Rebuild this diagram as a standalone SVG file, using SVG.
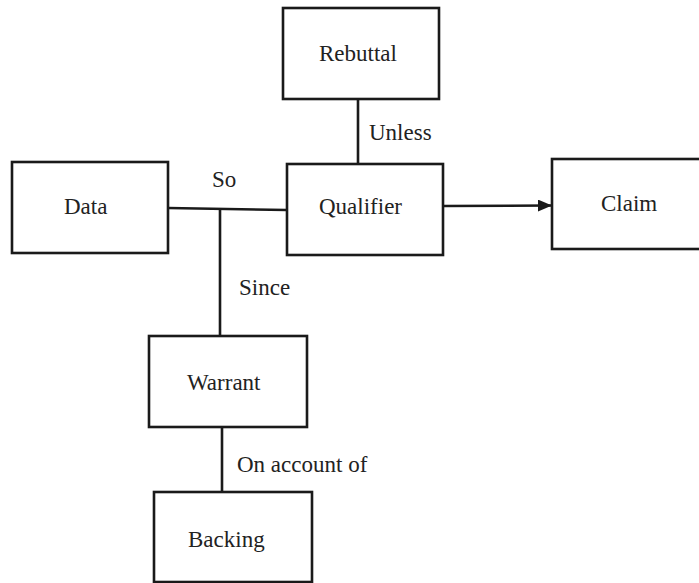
<svg xmlns="http://www.w3.org/2000/svg" width="699" height="583" viewBox="0 0 699 583">
<defs>
<style>
.box{fill:#fff;stroke:#1a1a1a;stroke-width:2.6}
.ln{fill:none;stroke:#1a1a1a;stroke-width:2.6}
</style>
<marker id="arr" markerWidth="14" markerHeight="12" refX="14" refY="6" orient="auto" markerUnits="userSpaceOnUse">
<path d="M0,0 L14,6 L0,12 Z" fill="#1a1a1a"/>
</marker>
</defs>
<rect width="699" height="583" fill="#fff"/>
<g id="connectors">
<line class="ln" x1="358" y1="99" x2="358" y2="164"/>
<line class="ln" x1="168" y1="208" x2="287" y2="210"/>
<line class="ln" x1="220" y1="209" x2="220" y2="336"/>
<line class="ln" x1="222" y1="427" x2="222" y2="492"/>
<line class="ln" x1="443" y1="206" x2="552" y2="205.5" marker-end="url(#arr)"/>
</g>
<text style="font-family:'Times New Roman','Liberation Serif',serif;font-size:23px;fill:#222" x="369" y="140">Unless</text>
<text style="font-family:'Times New Roman','Liberation Serif',serif;font-size:23px;fill:#222" x="212" y="187">So</text>
<text style="font-family:'Times New Roman','Liberation Serif',serif;font-size:23px;fill:#222" x="239" y="295">Since</text>
<text style="font-family:'Times New Roman','Liberation Serif',serif;font-size:23px;fill:#222" x="237" y="472">On account of</text>
<g id="rebuttal">
<rect class="box" x="283" y="8" width="156" height="91"/>
<text style="font-family:'Times New Roman','Liberation Serif',serif;font-size:23px;fill:#222" x="319" y="61">Rebuttal</text>
</g>
<g id="data">
<rect class="box" x="12" y="162" width="156" height="91"/>
<text style="font-family:'Times New Roman','Liberation Serif',serif;font-size:23px;fill:#222" x="64" y="214">Data</text>
</g>
<g id="qualifier">
<rect class="box" x="287" y="164" width="156" height="91"/>
<text style="font-family:'Times New Roman','Liberation Serif',serif;font-size:23px;fill:#222" x="319" y="214">Qualifier</text>
</g>
<g id="claim">
<rect class="box" x="552" y="159" width="160" height="90"/>
<text style="font-family:'Times New Roman','Liberation Serif',serif;font-size:23px;fill:#222" x="601" y="211">Claim</text>
</g>
<g id="warrant">
<rect class="box" x="149" y="336" width="158" height="91"/>
<text style="font-family:'Times New Roman','Liberation Serif',serif;font-size:23px;fill:#222" x="187" y="390">Warrant</text>
</g>
<g id="backing">
<rect class="box" x="154" y="492" width="158" height="90"/>
<text style="font-family:'Times New Roman','Liberation Serif',serif;font-size:23px;fill:#222" x="188" y="547">Backing</text>
</g>
</svg>
